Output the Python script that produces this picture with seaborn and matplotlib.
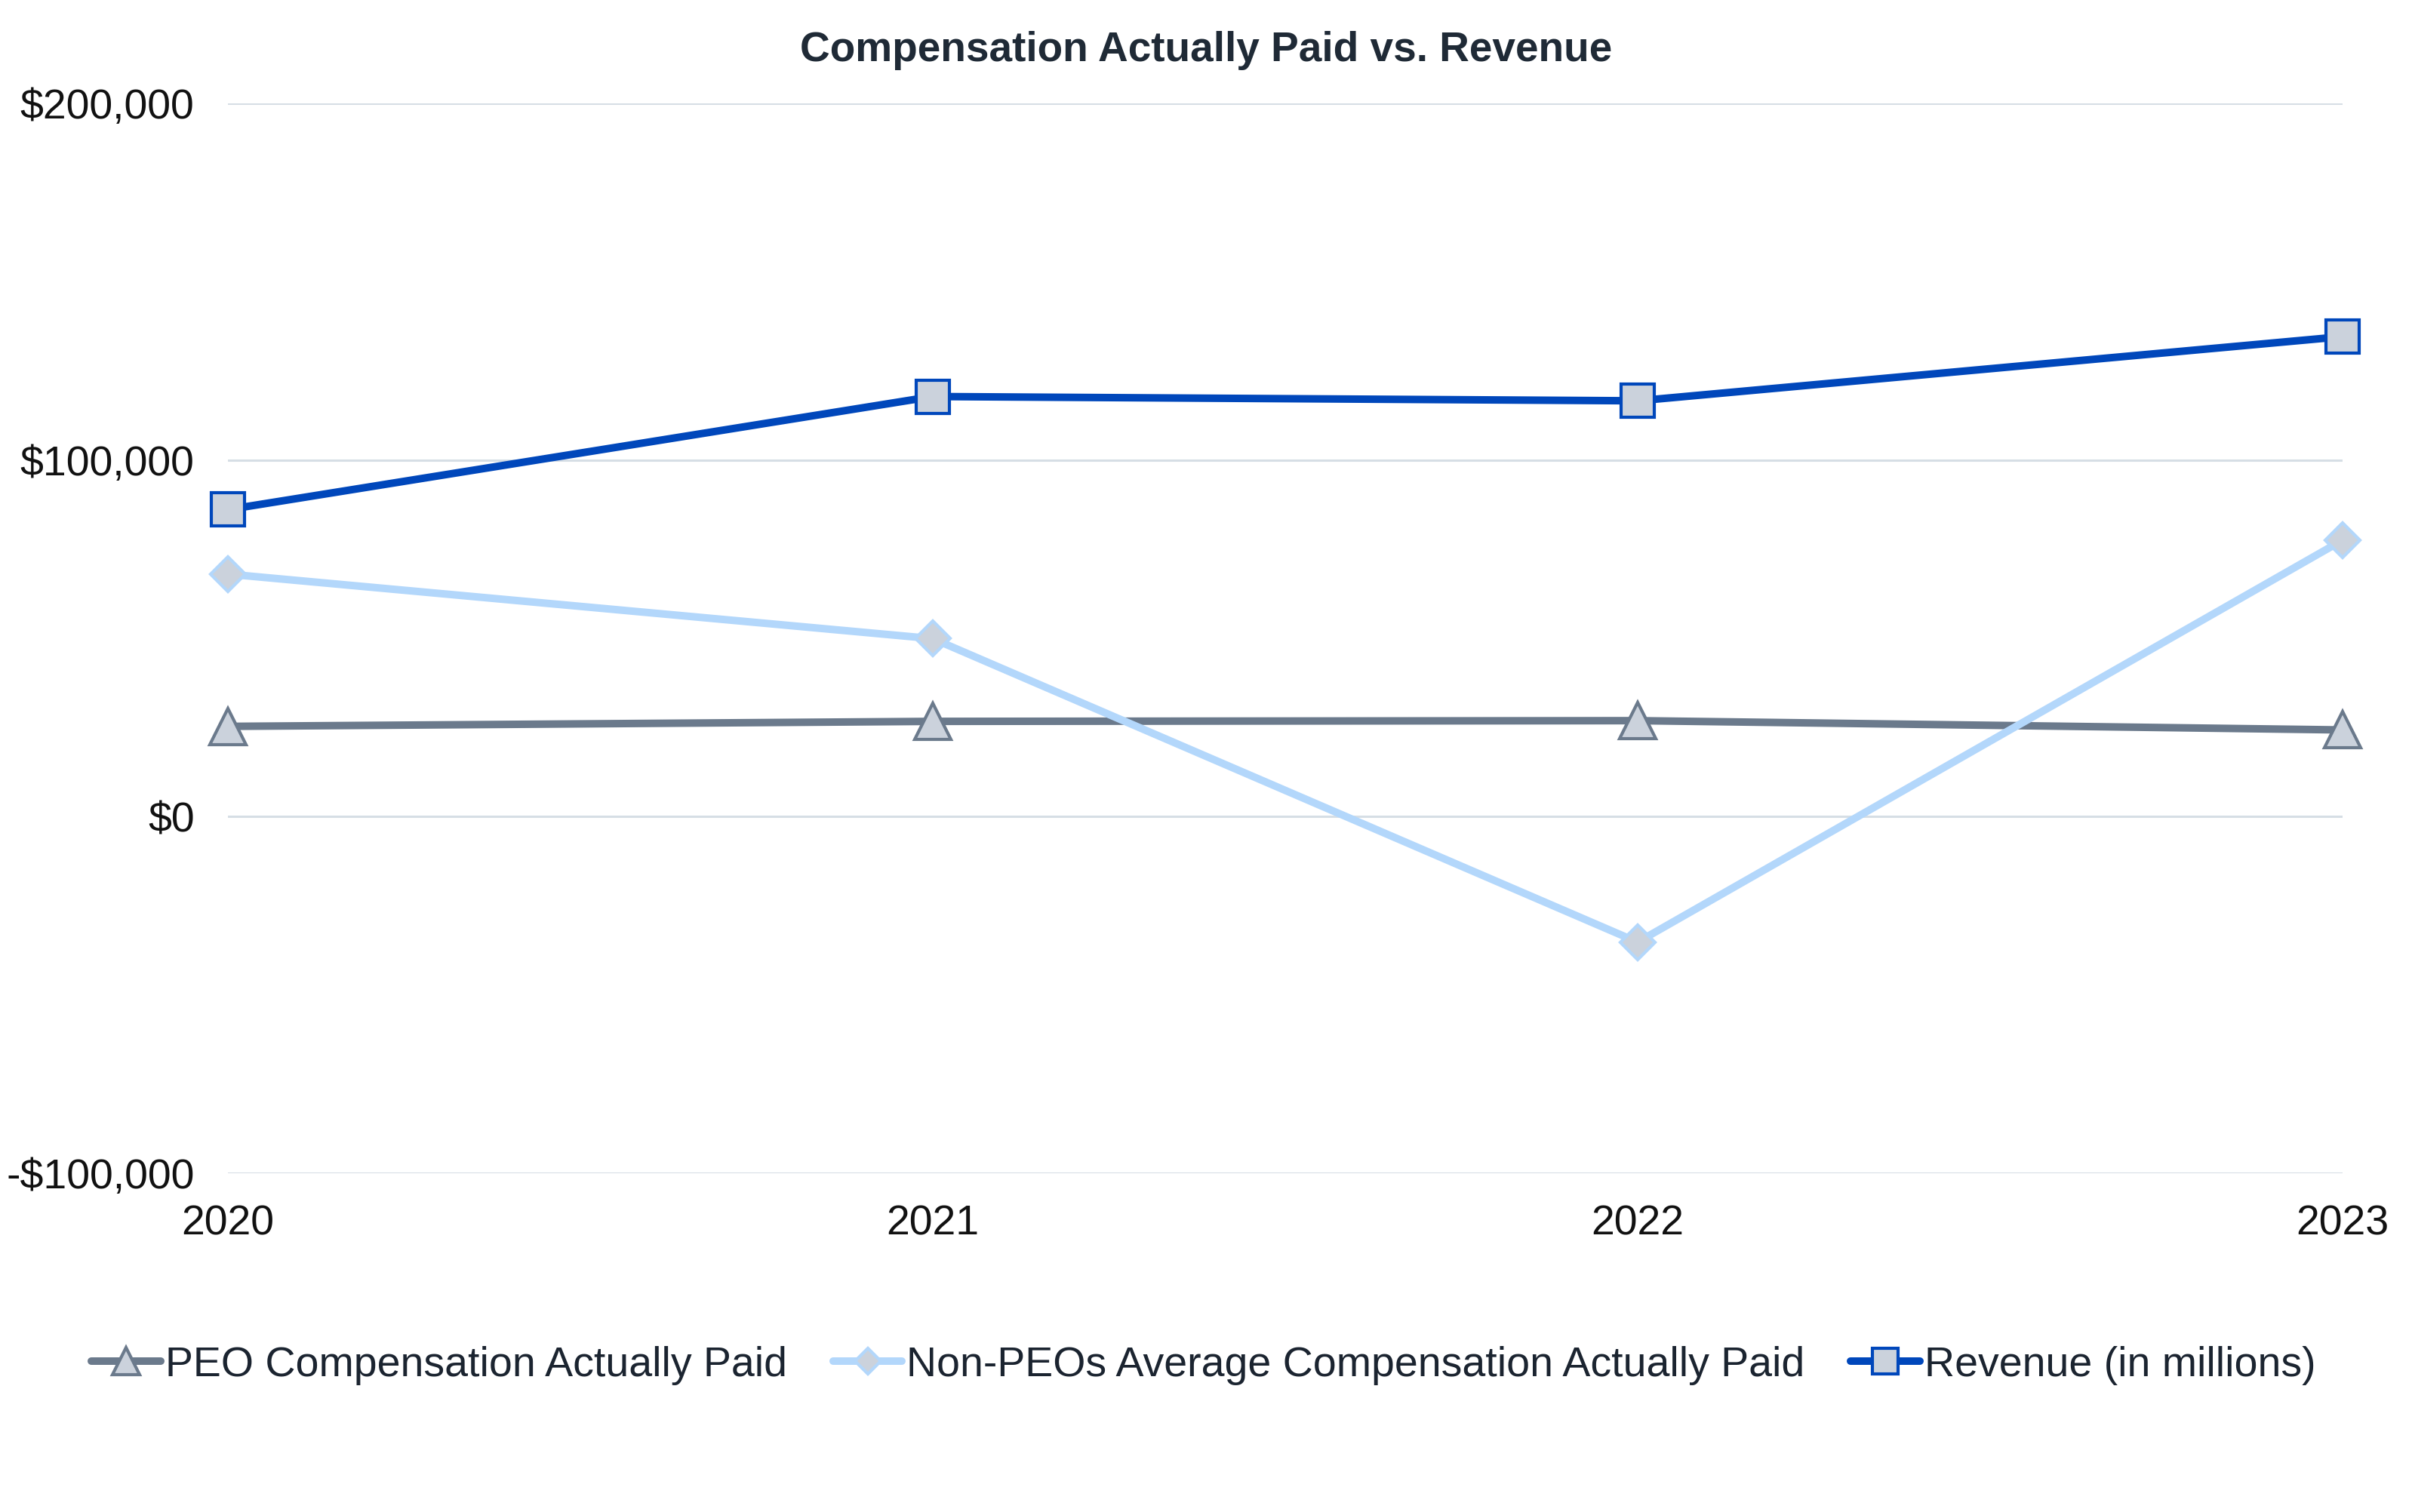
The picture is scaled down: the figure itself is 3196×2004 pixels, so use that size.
import matplotlib
matplotlib.use("Agg")
import matplotlib.pyplot as plt
import matplotlib.ticker as mticker
import seaborn as sns
import pandas as pd

years = [2020, 2021, 2022, 2023]
peo_cap = [25300, 26700, 26900, 24300]
non_peo_cap = [68000, 49900, -35200, 77500]
revenue = [86100, 117800, 116600, 134600]
series_names = ["PEO Compensation Actually Paid",
                "Non-PEOs Average Compensation Actually Paid",
                "Revenue (in millions)"]
y_ticks = [-100000, 0, 100000, 200000]

sns.set_theme(style="white")
plt.rcParams['font.family'] = ['Liberation Sans', 'DejaVu Sans']

fig = plt.figure(figsize=(15.98, 10.02), dpi=200)
ax = fig.add_axes([0.0945, 0.2241, 0.8767, 0.7075])

styles = [
    dict(color="#6b7a8c", marker="^", markersize=17, mfc="#cbd2dc", mec="#6b7a8c"),
    dict(color="#b3d7fb", marker="D", markersize=11.5, mfc="#cbd2dc", mec="#b3d7fb"),
    dict(color="#0047bb", marker="s", markersize=16, mfc="#cbd2dc", mec="#0047bb"),
]
for vals, name, st in zip([peo_cap, non_peo_cap, revenue], series_names, styles):
    df = pd.DataFrame({"year": years, "value": vals})
    sns.lineplot(data=df, x="year", y="value", ax=ax, label=name,
                 color=st["color"], linewidth=3.6, marker=st["marker"],
                 markersize=st["markersize"], markerfacecolor=st["mfc"],
                 markeredgecolor=st["mec"], markeredgewidth=1.5, clip_on=False)

ax.set_xlim(2020, 2023)
ax.set_ylim(-100000, 200000)
ax.set_xticks(years)
ax.set_xticklabels([str(y) for y in years])
ax.set_yticks(y_ticks)
ax.yaxis.set_major_formatter(mticker.FuncFormatter(
    lambda v, p: ("-$" if v < 0 else "$") + f"{abs(int(v)):,}"))
ax.set_xlabel("")
ax.set_ylabel("")
for s in ax.spines.values():
    s.set_visible(False)
ax.grid(axis="y", color="#d6dee5", linewidth=1.1)
ax.grid(axis="x", visible=False)
ax.set_axisbelow(True)
ax.tick_params(axis="both", length=0, labelsize=20, colors="#111111")
ax.tick_params(axis="x", pad=15)
ax.tick_params(axis="y", pad=16)

fig.text(0.5, 1 - 67 / 2004, "Compensation Actually Paid vs. Revenue",
         ha="center", va="center", fontsize=19.8, fontweight="bold", color="#1f2a36")

handles, labels = ax.get_legend_handles_labels()
ax.get_legend().remove()
fig.legend(handles, labels, loc="center", bbox_to_anchor=(0.499, 0.097), ncol=3,
           frameon=False, fontsize=20, handlelength=1.65, handletextpad=0.1,
           columnspacing=1.1, markerscale=0.75, labelcolor="#1b2430")

fig.savefig("out.png", dpi=200)
